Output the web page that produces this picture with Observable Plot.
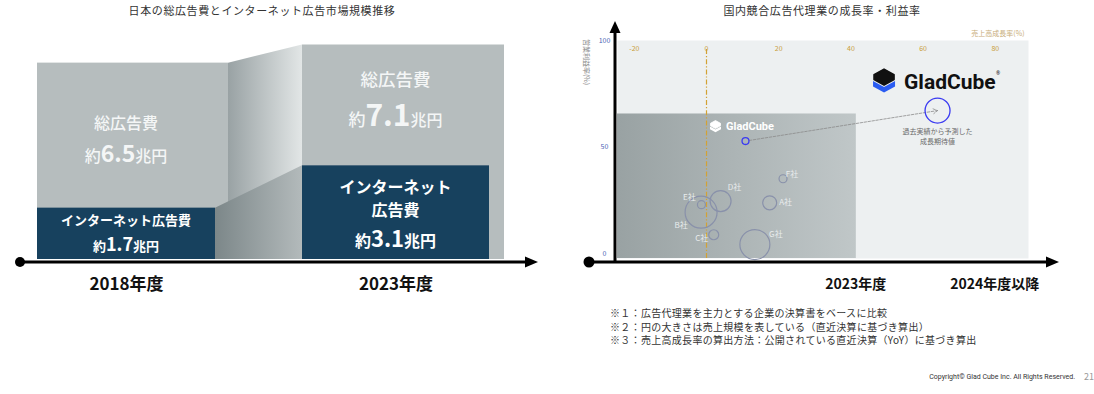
<!DOCTYPE html>
<html><head><meta charset="utf-8">
<script src="https://cdn.jsdelivr.net/npm/d3@7"></script>
<script src="https://cdn.jsdelivr.net/npm/@observablehq/plot@0.6"></script>
<style>
html,body{margin:0;padding:0;background:#fff;}
#wrap{position:relative;width:1094px;height:394px;overflow:hidden;font-family:"Noto Sans CJK JP","Noto Sans",sans-serif;color:#333;}
.abs{position:absolute;white-space:nowrap;}
</style></head><body><div id="wrap"></div>
<script>
// ---------- data ----------
const leftTitle = "日本の総広告費とインターネット広告市場規模推移";
const rightTitle = "国内競合広告代理業の成長率・利益率";
const years = ["2018年度", "2023年度"];
const totalAdSpend = [6.5, 7.1];      // 兆円
const internetAdSpend = [1.7, 3.1];   // 兆円

const companies = ["A社", "B社", "C社", "D社", "E社", "F社", "G社"];
const growthRate = [17.5, -1.5, 2.0, 3.9, -1.4, 21.2, 13.4];   // 売上高成長率(%)
const profitRate = [23.8, 19.4, 8.8, 24.6, 22.9, 35.1, 4.2];   // 営業利益率(%)
const salesScale = [49, 256, 25, 110, 16, 16, 225];            // 売上規模 (相対)

const gcPeriods = ["2023年度", "2024年度以降"];
const gcGrowth = [10.8, 64.0];
const gcProfit = [52.8, 67.1];
const gcSales = [12, 156];

const xTicks = [-20, 0, 20, 40, 60, 80];
const yTicks = [0, 50, 100];
const notes = [
  "※１：広告代理業を主力とする企業の決算書をベースに比較",
  "※２：円の大きさは売上規模を表している（直近決算に基づき算出）",
  "※３：売上高成長率の算出方法：公開されている直近決算（YoY）に基づき算出"
];
const copyright = "Copyright© Glad Cube Inc. All Rights Reserved.";

// ---------- style ----------
const JP = '"Noto Sans CJK JP","Noto Sans",sans-serif';
const GRAY = "#b6bdbe", NAVY = "#17415e";
const actualZone = {growth: 41.5, profit: 65.5};
const labelOffsets = {"A社": [16, 0], "B社": [-20, 13], "C社": [-12, 4], "D社": [14, -14], "E社": [-12, -7], "F社": [9, -4], "G社": [21, -10]};

const wrap = document.getElementById("wrap");
function place(node, left, top) {
  const d = document.createElement("div");
  d.className = "abs"; d.style.left = left + "px"; d.style.top = top + "px";
  d.appendChild(node); wrap.appendChild(d); return d;
}
function htmlText(txt, left, top, css) {
  const d = document.createElement("div");
  d.className = "abs"; d.textContent = txt;
  d.style.left = left + "px"; d.style.top = top + "px";
  Object.assign(d.style, css || {});
  wrap.appendChild(d); return d;
}
function fnMark(draw) { return function(index, scales, values, dimensions) { return draw(scales, dimensions); }; }

// ---------- left chart ----------
const barRows = years.map((year, i) => ({year, total: totalAdSpend[i], internet: internetAdSpend[i]}));
const INS_G0 = 11, INS_N0 = 24, INS_N1 = 15;

const connectorMark = fnMark((s) => {
  const x = s.x, y = s.y, bw = x.bandwidth();
  const xa = x(years[0]) + bw - INS_G0, xn = x(years[0]) + bw - INS_N0, xb = x(years[1]);
  const g = d3.create("svg:g");
  const defs = g.append("defs");
  const gu = defs.append("linearGradient").attr("id", "gUp");
  gu.append("stop").attr("offset", 0).attr("stop-color", "#99a2a4");
  gu.append("stop").attr("offset", 1).attr("stop-color", "#e2e6e6");
  const gd = defs.append("linearGradient").attr("id", "gDown");
  gd.append("stop").attr("offset", 0).attr("stop-color", "#7c8789");
  gd.append("stop").attr("offset", 1).attr("stop-color", "#b3babb");
  g.append("path").attr("fill", "url(#gUp)")
    .attr("d", `M${xa},${y(totalAdSpend[0])}L${xb},${y(totalAdSpend[1])}L${xb},${y(0)}L${xa},${y(0)}Z`);
  g.append("path").attr("fill", "url(#gDown)")
    .attr("d", `M${xn},${y(internetAdSpend[0])}L${xb},${y(internetAdSpend[1])}L${xb},${y(0)}L${xn},${y(0)}Z`);
  return g.node();
});

function rich(g, x, y, parts, fill) {
  const t = g.append("text").attr("x", x).attr("y", y).attr("text-anchor", "middle").attr("fill", fill || "#fff");
  parts.forEach(p => t.append("tspan").text(p[0]).attr("font-size", p[1]).attr("font-weight", p[2] || 400));
}

const leftLabelMark = fnMark((s) => {
  const x = s.x, y = s.y, bw = x.bandwidth();
  const c0 = x(years[0]) + (bw - INS_N0) / 2, c1 = x(years[1]) + (bw - INS_N1) / 2;
  const g = d3.create("svg:g").attr("font-family", JP);
  const m0 = (y(totalAdSpend[0]) + y(internetAdSpend[0])) / 2;
  const m1 = (y(totalAdSpend[1]) + y(internetAdSpend[1])) / 2;
  const n0 = (y(internetAdSpend[0]) + y(0)) / 2;
  const n1 = (y(internetAdSpend[1]) + y(0)) / 2;
  const lc = "#f4f6f6";
  rich(g, c0, m0 - 6, [["総広告費", 16, 500]], lc);
  rich(g, c0, m0 + 27, [["約", 16, 500], [totalAdSpend[0].toFixed(1), 23, 700], ["兆円", 16, 500]], lc);
  rich(g, c1, m1 - 19, [["総広告費", 17.5, 500]], lc);
  rich(g, c1, m1 + 21, [["約", 17, 500], [totalAdSpend[1].toFixed(1), 30, 700], ["兆円", 16, 500]], lc);
  rich(g, c0, n0 - 8, [["インターネット広告費", 13, 700]]);
  rich(g, c0, n0 + 18, [["約", 13, 700], [internetAdSpend[0].toFixed(1), 18, 700], ["兆円", 13, 700]]);
  rich(g, c1, n1 - 19, [["インターネット", 16, 700]]);
  rich(g, c1, n1 + 4, [["広告費", 16, 700]]);
  rich(g, c1, n1 + 35, [["約", 16, 700], [internetAdSpend[1].toFixed(1), 22, 700], ["兆円", 16, 700]]);
  return g.node();
});

const leftAxisMark = fnMark((s) => {
  const y0 = s.y(0) + 3;
  const g = d3.create("svg:g");
  g.append("line").attr("x1", 20).attr("x2", 528).attr("y1", y0).attr("y2", y0).attr("stroke", "#000").attr("stroke-width", 3);
  g.append("circle").attr("cx", 20).attr("cy", y0).attr("r", 5).attr("fill", "#000");
  g.append("path").attr("d", `M538,${y0}L525,${y0 - 5.5}L525,${y0 + 5.5}Z`).attr("fill", "#000");
  return g.node();
});

const leftPlot = Plot.plot({
  width: 550, height: 300, marginTop: 0, marginRight: 0, marginBottom: 0, marginLeft: 0,
  style: {background: "transparent", overflow: "visible"},
  x: {domain: years, range: [36, 505], paddingInner: 0.2368, paddingOuter: 0, axis: null},
  y: {domain: [0, 7.1], range: [259, 44.5], axis: null},
  marks: [
    Plot.barY(barRows.slice(0, 1), {x: "year", y: "total", fill: GRAY, insetRight: INS_G0}),
    Plot.barY(barRows.slice(1), {x: "year", y: "total", fill: GRAY}),
    connectorMark,
    Plot.barY(barRows.slice(0, 1), {x: "year", y: "internet", fill: NAVY, insetRight: INS_N0}),
    Plot.barY(barRows.slice(1), {x: "year", y: "internet", fill: NAVY, insetRight: INS_N1}),
    leftLabelMark,
    leftAxisMark,
    Plot.text(years.slice(0, 1), {x: d => d, text: d => d, frameAnchor: "bottom", dy: -11, dx: -12, fontSize: 17, fontWeight: 700, fill: "#111", fontFamily: JP}),
    Plot.text(years.slice(1), {x: d => d, text: d => d, frameAnchor: "bottom", dy: -11, dx: -7.5, fontSize: 17, fontWeight: 700, fill: "#111", fontFamily: JP})
  ]
});
place(leftPlot, 0, 0);

// ---------- right chart ----------
const compRows = companies.map((name, i) => ({name, growth: growthRate[i], profit: profitRate[i], sales: salesScale[i]}));
const gcRows = gcPeriods.map((period, i) => ({period, growth: gcGrowth[i], profit: gcProfit[i], sales: gcSales[i]}));

const panelMark = fnMark((s, dim) => {
  const g = d3.create("svg:g");
  const gr = g.append("defs").append("linearGradient").attr("id", "gPanel");
  gr.append("stop").attr("offset", 0).attr("stop-color", "#99a2a3");
  gr.append("stop").attr("offset", 1).attr("stop-color", "#c0c7c8");
  const x0 = dim.marginLeft, x1 = s.x(actualZone.growth);
  const y0 = s.y(actualZone.profit), y1 = dim.height - dim.marginBottom;
  g.append("rect").attr("x", x0).attr("y", y0).attr("width", x1 - x0).attr("height", y1 - y0).attr("fill", "url(#gPanel)");
  return g.node();
});

const rightAxisMark = fnMark((s, dim) => {
  const g = d3.create("svg:g");
  const yA = dim.height - dim.marginBottom + 4, xA = dim.marginLeft - 2;
  g.append("line").attr("x1", xA).attr("x2", xA).attr("y1", yA).attr("y2", 32).attr("stroke", "#000").attr("stroke-width", 3);
  g.append("path").attr("d", `M${xA},21L${xA - 5.5},33L${xA + 5.5},33Z`).attr("fill", "#000");
  g.append("line").attr("x1", 29).attr("x2", 488).attr("y1", yA).attr("y2", yA).attr("stroke", "#000").attr("stroke-width", 3);
  g.append("circle").attr("cx", 29).attr("cy", yA).attr("r", 5.5).attr("fill", "#000");
  g.append("path").attr("d", `M499,${yA}L486,${yA - 5.5}L486,${yA + 5.5}Z`).attr("fill", "#000");
  const tx = [s.x(actualZone.growth), s.x(xTicks[xTicks.length - 1])];
  gcPeriods.forEach((p, i) => g.append("text").attr("x", tx[i]).attr("y", yA + 27).attr("text-anchor", "middle")
    .attr("font-family", JP).attr("font-size", 14).attr("font-weight", 700).attr("fill", "#111").text(p));
  g.append("text").attr("transform", `translate(27,62) rotate(90)`).attr("text-anchor", "middle")
    .attr("dominant-baseline", "central").attr("font-family", JP).attr("font-size", 7).attr("fill", "#8a8a8a").text("営業利益率(%)");
  return g.node();
});

function cubeIcon(g, x, y, k, top, bottom) {
  const ic = g.append("g").attr("transform", `translate(${x},${y}) scale(${k})`);
  ic.append("path").attr("fill", bottom).attr("d", "M0,13 L11,19 L22,13 L22,18.5 L11,24.5 L0,18.5 Z");
  ic.append("path").attr("fill", top).attr("stroke", top).attr("stroke-width", 1.6).attr("stroke-linejoin", "round")
    .attr("d", "M11,1 L21,6.5 L21,11.5 L11,17 L1,11.5 L1,6.5 Z");
}
const logoMark = fnMark((s) => {
  const g = d3.create("svg:g").attr("text-anchor", "start");
  const fx = s.x(gcGrowth[1]), fy = s.y(gcProfit[1]);
  cubeIcon(g, fx - 64, fy - 42, 1, "#111", "#2a5cf2");
  g.append("text").attr("x", fx - 33).attr("y", fy - 21).attr("text-anchor", "start").attr("font-family", "Roboto, Lato, sans-serif").attr("font-weight", 700)
    .attr("font-size", 21).attr("fill", "#111").text("GladCube");
  g.append("text").attr("x", fx + 59).attr("y", fy - 35).attr("text-anchor", "start").attr("font-size", 5).attr("fill", "#111").text("®");
  const px = s.x(gcGrowth[0]), py = s.y(gcProfit[0]);
  cubeIcon(g, px - 35, py - 20.5, 0.5, "#fff", "#fff");
  g.append("text").attr("x", px - 19).attr("y", py - 10.5).attr("text-anchor", "start").attr("font-family", "Roboto, Lato, sans-serif").attr("font-weight", 700)
    .attr("font-size", 11).attr("fill", "#fff").text("GladCube");
  return g.node();
});

const labelMarks = compRows.map(d => Plot.text([d], {
  x: "growth", y: "profit", text: "name", dx: labelOffsets[d.name][0], dy: labelOffsets[d.name][1],
  fontSize: 8, fill: "#e9eced", fontFamily: JP
}));

const rightPlot = Plot.plot({
  width: 534, height: 300, marginLeft: 57, marginTop: 40, marginRight: 66, marginBottom: 42,
  style: {background: "transparent", overflow: "visible"},
  x: {domain: [-20, 80], range: [73.8, 434.8], axis: null},
  y: {domain: [0, 100], range: [253, 40], axis: null},
  r: {domain: [0, 256], range: [0, 16]},
  marks: [
    Plot.frame({fill: "#edf0f1", stroke: "none"}),
    panelMark,
    Plot.ruleX([0], {stroke: "#d3a233", strokeWidth: 1.2, strokeDasharray: "5,2,1.2,2", insetTop: 9}),
    Plot.text(xTicks, {x: d => d, text: d => String(d), frameAnchor: "top", dy: 6, fontSize: 7, fill: "#c99e3a", fontFamily: JP}),
    Plot.text(["売上高成長率(%)"], {text: d => d, frameAnchor: "top-right", dx: -4, dy: -9, textAnchor: "end", fontSize: 7, fill: "#c8ad78", fontFamily: JP}),
    Plot.text(yTicks, {y: d => d, text: d => String(d), frameAnchor: "left", dx: -13, textAnchor: "middle", fontSize: 7, fill: "#4a63b5", fontFamily: JP}),
    Plot.dot(compRows, {x: "growth", y: "profit", r: "sales", stroke: "#8991aa", strokeWidth: 1.2, fill: "none"}),
    ...labelMarks,
    Plot.arrow([0], {x1: () => gcGrowth[0], y1: () => gcProfit[0], x2: () => gcGrowth[1], y2: () => gcProfit[1],
      stroke: "#8a8a8a", strokeWidth: 0.8, strokeDasharray: "2.5,1.5", headLength: 9, insetStart: 4}),
    Plot.dot(gcRows, {x: "growth", y: "profit", r: "sales", stroke: "#3a3af2", strokeWidth: 1.3, fill: "none"}),
    Plot.text(gcRows.slice(1), {x: "growth", y: "profit", text: () => "過去実績から予測した\n成長期待値", dy: 25.5, lineHeight: 1.3, fontSize: 7, fill: "#6a6a6a", fontFamily: JP}),
    logoMark,
    rightAxisMark
  ]
});
place(rightPlot, 560, 0);

// ---------- html texts ----------
htmlText(leftTitle, 62, 3, {width: "400px", textAlign: "center", fontSize: "11px", letterSpacing: "0.6px", lineHeight: "15px", color: "#333"});
htmlText(rightTitle, 622, 3, {width: "400px", textAlign: "center", fontSize: "11px", letterSpacing: "0.6px", lineHeight: "15px", color: "#333"});
notes.forEach((n, i) => htmlText(n, 610, 306 + i * 13.5, {fontSize: "10px", letterSpacing: "0.3px", lineHeight: "13px", color: "#333"}));
htmlText(copyright, 855, 372, {width: "220px", textAlign: "right", fontSize: "7px", lineHeight: "10px", color: "#333", fontFamily: "Roboto, sans-serif"});
htmlText("21", 1084, 371, {fontSize: "9px", lineHeight: "12px", color: "#999"});
</script></body></html>
